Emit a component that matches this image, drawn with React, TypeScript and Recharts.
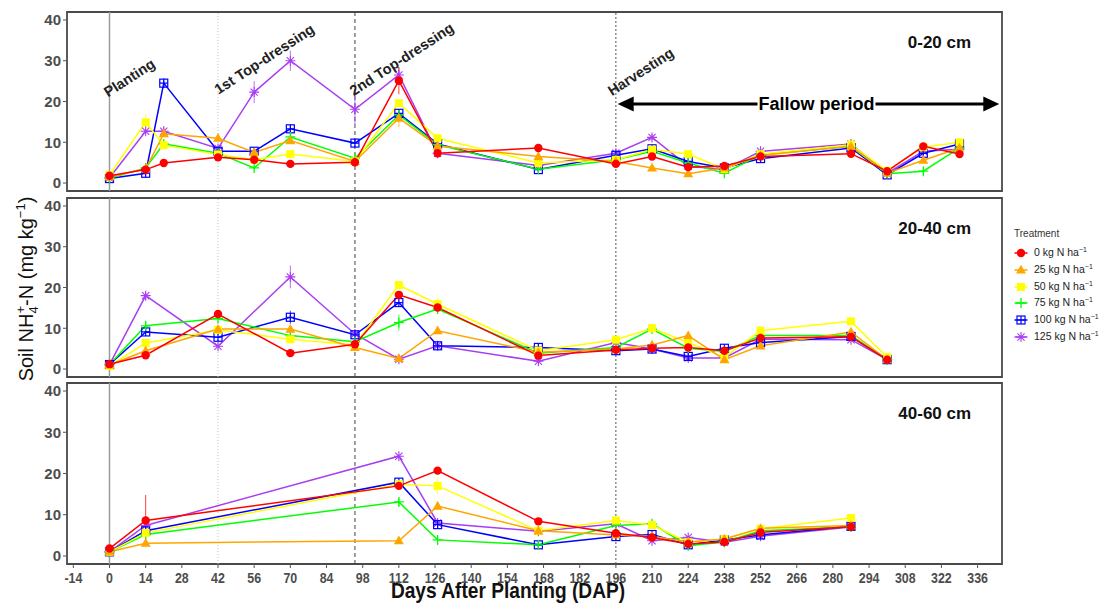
import React from 'react';
import {
  LineChart,
  Line,
  XAxis,
  YAxis,
  ReferenceLine,
  ReferenceArea,
  ReferenceDot,
  ErrorBar,
  Legend,
} from 'recharts';

// ---- treatments ----
const TREATMENT_RATES = ['0', '25', '50', '75', '100', '125'];
const TREATMENT_COLORS = ['#ff0000', '#ffa500', '#ffff00', '#00ff00', '#0000ff', '#a83ef2'];
const TREATMENT_SHAPES = ['circle', 'triangle', 'square', 'plus', 'boxplus', 'asterisk'];

// ---- axes ----
const DAP_TICKS = [-14, 0, 14, 28, 42, 56, 70, 84, 98, 112, 126, 140, 154, 168, 182, 196, 210, 224, 238, 252, 266, 280, 294, 308, 322, 336];
const NH4_TICKS = [0, 10, 20, 30, 40];
const DAP_DOMAIN: [number, number] = [-16.45, 345.45];
const NH4_DOMAIN: [number, number] = [-1.95, 41.95];

// ---- crop events (days after planting) ----
const EVENT_DAYS = [0, 42, 95, 196];
const EVENT_NAMES = ['Planting', '1st Top-dressing', '2nd Top-dressing', 'Harvesting'];
const EVENT_LABEL_DAYS = [7.7, 59.9, 113.1, 205.6];
const EVENT_LABEL_LEVELS = [25.8, 30.4, 30.4, 27.3];

// ---- 0-20 cm ----
const DAP_0_20 = [0, 14, 21, 42, 56, 70, 95, 112, 127, 166, 196, 210, 224, 238, 252, 287, 301, 315, 329];
const NH4_0_20 = [
  [1.8, 3.3, 4.9, 6.3, 5.7, 4.7, 5.1, 25.1, 7.3, 8.6, 4.7, 6.5, 3.9, 4.2, 6.5, 7.2, 2.9, 9.0, 7.1],
  [1.5, 3.5, 12.1, 11.0, 7.5, 10.4, 5.3, 15.9, 9.1, 6.5, 5.3, 3.7, 2.3, 3.7, 6.8, 9.0, 2.4, 5.6, 8.6],
  [2.0, 14.9, 9.3, 7.0, 5.7, 7.1, 5.3, 19.6, 11.0, 4.9, 5.7, 8.2, 7.1, 3.4, 7.1, 9.4, 3.0, 8.8, 10.0],
  [1.2, 3.7, 9.6, 7.3, 3.7, 11.3, 6.1, 16.7, 9.4, 3.4, 5.7, 7.8, 4.9, 2.4, 6.9, 9.0, 2.3, 2.9, 8.6],
  [1.1, 2.4, 24.5, 7.8, 7.8, 13.3, 9.8, 17.1, 9.6, 3.3, 6.8, 8.4, 5.3, 3.7, 6.0, 8.6, 2.0, 7.3, 9.6],
  [1.3, 12.7, 12.7, 8.5, 22.3, 30.0, 18.1, 26.5, 7.3, 4.3, 7.3, 11.2, 4.1, 3.3, 7.8, 9.6, 2.4, 7.8, 8.3],
];
// [treatment index, DAP, standard error]
const SE_0_20: [number, number, number][] = [
  [2, 14, 2.0], [4, 21, 1.2], [1, 21, 0.8], [5, 21, 1.0], [5, 56, 2.7], [5, 70, 2.5],
  [4, 70, 1.0], [5, 95, 3.7], [0, 112, 3.3], [1, 112, 2.2], [5, 112, 2.0], [5, 210, 0.8],
];

// ---- 20-40 cm ----
const DAP_20_40 = [0, 14, 42, 70, 95, 112, 127, 166, 196, 210, 224, 238, 252, 287, 301];
const NH4_20_40 = [
  [1.2, 3.4, 13.5, 3.9, 6.1, 18.2, 15.1, 3.3, 4.7, 5.1, 5.3, 4.5, 7.6, 7.9, 2.3],
  [1.0, 4.5, 9.8, 9.8, 5.3, 2.6, 9.4, 4.1, 4.9, 5.9, 8.2, 2.3, 5.7, 9.1, 2.3],
  [0.7, 6.4, 9.6, 7.3, 5.9, 20.6, 15.9, 4.5, 7.2, 10.0, 6.5, 2.9, 9.4, 11.7, 2.9],
  [1.1, 10.6, 12.4, 8.2, 6.7, 11.4, 14.7, 3.9, 5.3, 9.8, 5.1, 4.3, 8.2, 8.2, 2.3],
  [1.1, 9.1, 7.8, 12.7, 8.4, 16.3, 5.7, 5.3, 4.5, 4.9, 3.1, 5.1, 6.5, 8.0, 2.3],
  [1.1, 18.0, 5.6, 22.6, 8.6, 2.4, 5.7, 1.9, 6.5, 4.9, 2.7, 2.7, 7.3, 7.2, 2.3],
];
const SE_20_40: [number, number, number][] = [
  [5, 14, 1.0], [3, 14, 1.0], [5, 70, 2.8], [4, 70, 1.6], [3, 112, 2.0], [2, 127, 1.5], [2, 287, 0.8],
];

// ---- 40-60 cm ----
const DAP_40_60 = [0, 14, 112, 127, 166, 196, 210, 224, 238, 252, 287];
const NH4_40_60 = [
  [1.8, 8.6, 17.0, 20.7, 8.4, 5.5, 4.5, 2.9, 3.4, 5.7, 7.1],
  [1.0, 3.1, 3.7, 12.1, 6.1, 5.1, 4.8, 3.4, 4.1, 6.7, 7.4],
  [1.0, 5.6, 17.4, 17.0, 6.1, 8.6, 7.5, 3.3, 4.1, 6.6, 9.2],
  [1.0, 5.2, 13.1, 3.9, 2.7, 7.4, 7.8, 2.5, 3.4, 6.1, 7.1],
  [1.0, 6.1, 17.9, 7.6, 2.7, 4.7, 5.2, 2.7, 3.9, 5.1, 7.2],
  [1.0, 7.4, 24.2, 8.0, 6.0, 7.8, 3.7, 4.5, 3.3, 4.8, 7.0],
];
const SE_40_60: [number, number, number][] = [
  [0, 14, 6.2], [2, 127, 2.0], [3, 112, 1.0], [1, 127, 1.0],
];

// fallow period arrow (DAP span and level on the 0-20 cm panel)
const FALLOW_SPAN = [196.7, 344.4];
const FALLOW_LEVEL = 19.4;

const EVENT_LINE_STYLES = [
  { stroke: '#9a9a9a', strokeWidth: 1.5, strokeDasharray: undefined },
  { stroke: '#c4c4c4', strokeWidth: 1, strokeDasharray: '1 2' },
  { stroke: '#444444', strokeWidth: 1, strokeDasharray: '4 3' },
  { stroke: '#555555', strokeWidth: 1, strokeDasharray: '2 2' },
];

const SANS = '"Liberation Sans", Arial, sans-serif';
const DRAW_ORDER = [5, 4, 3, 2, 1, 0];

function Marker({ shape, cx, cy, color }: { shape: string; cx: number; cy: number; color: string }) {
  if (cx == null || cy == null || isNaN(cx) || isNaN(cy)) return null;
  switch (shape) {
    case 'circle':
      return <circle cx={cx} cy={cy} r={4.2} fill={color} />;
    case 'triangle':
      return <polygon points={`${cx},${cy - 5.2} ${cx + 5},${cy + 3.6} ${cx - 5},${cy + 3.6}`} fill={color} />;
    case 'square':
      return <rect x={cx - 4} y={cy - 4} width={8} height={8} fill={color} />;
    case 'plus':
      return <path d={`M${cx - 5},${cy}H${cx + 5}M${cx},${cy - 5}V${cy + 5}`} stroke={color} strokeWidth={1.3} fill="none" />;
    case 'boxplus':
      return (
        <g stroke={color} strokeWidth={1.2} fill="none">
          <rect x={cx - 4} y={cy - 4} width={8} height={8} />
          <path d={`M${cx - 4},${cy}H${cx + 4}M${cx},${cy - 4}V${cy + 4}`} />
        </g>
      );
    default:
      return (
        <path
          d={`M${cx - 5},${cy}H${cx + 5}M${cx},${cy - 5}V${cy + 5}M${cx - 3.6},${cy - 3.6}L${cx + 3.6},${cy + 3.6}M${cx - 3.6},${cy + 3.6}L${cx + 3.6},${cy - 3.6}`}
          stroke={color}
          strokeWidth={1.1}
          fill="none"
        />
      );
  }
}

function buildRows(days: number[], values: number[][], se: [number, number, number][]) {
  return days.map((d, j) => {
    const row: Record<string, number> = { day: d };
    values.forEach((arr, i) => {
      row['v' + i] = arr[j];
      row['e' + i] = 0;
    });
    se.forEach(([i, day, s]) => {
      if (day === d) row['e' + i] = s;
    });
    return row;
  });
}

// condensed bold tick labels for the DAP axis
const XTick = (props: any) => {
  const { x, y, payload } = props;
  return (
    <text
      transform={`translate(${x},${y + 13}) scale(0.8,1)`}
      textAnchor="middle"
      fontFamily={SANS}
      fontWeight="bold"
      fontSize={15.5}
      fill="#4d4d4d"
    >
      {payload.value}
    </text>
  );
};

const FallowArrow = (props: any) => {
  const { x1, y1, x2 } = props;
  if (x1 == null) return null;
  const y = y1;
  const head = 16;
  const half = 7.5;
  const mid = x1 + (x2 - x1) * 0.521;
  return (
    <g>
      <line x1={x1 + head - 2} y1={y} x2={x2 - head + 2} y2={y} stroke="#000" strokeWidth={3} />
      <polygon points={`${x1},${y} ${x1 + head},${y - half} ${x1 + head},${y + half}`} fill="#000" />
      <polygon points={`${x2},${y} ${x2 - head},${y - half} ${x2 - head},${y + half}`} fill="#000" />
      <rect x={mid - 59} y={y - 10} width={118} height={20} fill="#fff" />
      <text x={mid} y={y + 6} textAnchor="middle" fontFamily={SANS} fontWeight="bold" fontSize={18} fill="#000">
        Fallow period
      </text>
    </g>
  );
};

const TreatmentLegend = () => (
  <div style={{ fontFamily: SANS, color: '#222', lineHeight: '12px' }}>
    <div style={{ fontSize: 10, marginLeft: 4, height: 12, color: '#333' }}>Treatment</div>
    <div style={{ marginTop: 4.6 }}>
      {TREATMENT_RATES.map((rate, i) => (
        <div key={rate} style={{ display: 'flex', alignItems: 'center', height: 16.8 }}>
          <svg width={22} height={14} style={{ display: 'block' }}>
            <line x1={4.5} x2={17.5} y1={7} y2={7} stroke={TREATMENT_COLORS[i]} strokeWidth={1.5} />
            <Marker shape={TREATMENT_SHAPES[i]} cx={11} cy={7} color={TREATMENT_COLORS[i]} />
          </svg>
          <span style={{ fontSize: 10.5, marginLeft: 2, whiteSpace: 'nowrap' }}>
            {rate} kg N ha
            <span style={{ fontSize: 7, position: 'relative', top: -4 }}>−1</span>
          </span>
        </div>
      ))}
    </div>
  </div>
);

type PanelProps = {
  days: number[];
  values: number[][];
  se: [number, number, number][];
  top: number;
  depth: string;
  bottom?: boolean;
  events?: boolean;
  legend?: boolean;
};

const PLOT_H = 179;

function Panel({ days, values, se, top, depth, bottom, events, legend }: PanelProps) {
  const rows = buildRows(days, values, se);
  const axisH = bottom ? 41 : 0;
  const height = PLOT_H + 4 + axisH;
  return (
    <div style={{ position: 'absolute', left: 0, top: top - 2 }}>
      <LineChart width={1106} height={height} data={rows} margin={{ top: 2, right: 104, bottom: bottom ? 0 : 2, left: 17 }}>
        <XAxis
          type="number"
          dataKey="day"
          domain={DAP_DOMAIN}
          allowDataOverflow
          ticks={DAP_TICKS}
          interval={0}
          hide={!bottom}
          height={axisH || 1}
          axisLine={false}
          tickLine={{ stroke: '#555' }}
          tickSize={4}
          tick={<XTick />}
        />
        <YAxis
          type="number"
          domain={NH4_DOMAIN}
          allowDataOverflow
          ticks={NH4_TICKS}
          interval={0}
          width={50}
          axisLine={false}
          tickLine={{ stroke: '#555' }}
          tickSize={4}
          tickMargin={2}
          tick={{ fontSize: 15, fontWeight: 'bold', fill: '#4d4d4d', fontFamily: SANS }}
        />
        {EVENT_DAYS.map((d, i) => (
          <ReferenceLine
            key={'ev' + d}
            x={d}
            stroke={EVENT_LINE_STYLES[i].stroke}
            strokeWidth={EVENT_LINE_STYLES[i].strokeWidth}
            strokeDasharray={EVENT_LINE_STYLES[i].strokeDasharray}
          />
        ))}
        {DRAW_ORDER.map((i) => (
          <Line
            key={'s' + i}
            type="linear"
            dataKey={'v' + i}
            name={`${TREATMENT_RATES[i]} kg N ha-1`}
            stroke={TREATMENT_COLORS[i]}
            strokeWidth={1.5}
            isAnimationActive={false}
            activeDot={false}
            dot={(p: any) => (
              <Marker key={`m${i}-${p.index}`} shape={TREATMENT_SHAPES[i]} cx={p.cx} cy={p.cy} color={TREATMENT_COLORS[i]} />
            )}
          >
            <ErrorBar dataKey={'e' + i} width={0} stroke={TREATMENT_COLORS[i]} strokeWidth={1} strokeOpacity={0.75} direction="y" isAnimationActive={false} />
          </Line>
        ))}
        {events &&
          EVENT_NAMES.map((name, i) => (
            <ReferenceDot
              key={'lbl' + i}
              x={EVENT_LABEL_DAYS[i]}
              y={EVENT_LABEL_LEVELS[i]}
              ifOverflow="visible"
              shape={(p: any) => (
                <text
                  x={p.cx}
                  y={p.cy}
                  transform={`rotate(-33 ${p.cx} ${p.cy})`}
                  textAnchor="middle"
                  dominantBaseline="central"
                  fontFamily={SANS}
                  fontWeight="bold"
                  fontSize={14.5}
                  fill="#222"
                >
                  {name}
                </text>
              )}
            />
          ))}
        {events && (
          <ReferenceLine
            segment={[
              { x: FALLOW_SPAN[0], y: FALLOW_LEVEL },
              { x: FALLOW_SPAN[1], y: FALLOW_LEVEL },
            ]}
            ifOverflow="visible"
            shape={<FallowArrow />}
          />
        )}
        <ReferenceDot
          x={333.5}
          y={33.2}
          ifOverflow="visible"
          shape={(p: any) => (
            <text x={p.cx} y={p.cy} textAnchor="end" fontFamily={SANS} fontWeight="bold" fontSize={17} fill="#111">
              {depth}
            </text>
          )}
        />
        <ReferenceArea
          x1={DAP_DOMAIN[0]}
          x2={DAP_DOMAIN[1]}
          y1={NH4_DOMAIN[0]}
          y2={NH4_DOMAIN[1]}
          ifOverflow="visible"
          fill="none"
          fillOpacity={0}
          stroke="#4a4a4a"
          strokeWidth={1.8}
        />
        {legend && (
          <Legend
            layout="vertical"
            align="center"
            verticalAlign="middle"
            content={() => <TreatmentLegend />}
            wrapperStyle={{ left: 1010, top: 228 - (top - 2), width: 96, height: 'auto' }}
          />
        )}
      </LineChart>
    </div>
  );
}

export default function App() {
  return (
    <div
      style={{
        position: 'absolute',
        left: 0,
        top: 0,
        width: 1106,
        height: 603,
        background: '#fff',
        fontFamily: SANS,
        overflow: 'hidden',
      }}
    >
      <Panel days={DAP_0_20} values={NH4_0_20} se={SE_0_20} top={12} depth="0-20 cm" events />
      <Panel days={DAP_20_40} values={NH4_20_40} se={SE_20_40} top={198} depth="20-40 cm" legend />
      <Panel days={DAP_40_60} values={NH4_40_60} se={SE_40_60} top={383} depth="40-60 cm" bottom />
      <svg width={1106} height={603} style={{ position: 'absolute', left: 0, top: 0, pointerEvents: 'none' }}>
        <text transform="translate(33,289) rotate(-90)" textAnchor="middle" fontFamily={SANS} fontSize={20} fill="#111">
          Soil NH
          <tspan dy={5} fontSize={13}>4</tspan>
          <tspan dx={-7.2} dy={-13} fontSize={13}>+</tspan>
          <tspan dy={8}>-N  (mg kg</tspan>
          <tspan dy={-8} fontSize={13}>−1</tspan>
          <tspan dy={8}>)</tspan>
        </text>
        <text
          transform="translate(508,598) scale(0.87,1)"
          textAnchor="middle"
          fontFamily={SANS}
          fontWeight="bold"
          fontSize={22}
          fill="#111"
        >
          Days After Planting (DAP)
        </text>
      </svg>
    </div>
  );
}
